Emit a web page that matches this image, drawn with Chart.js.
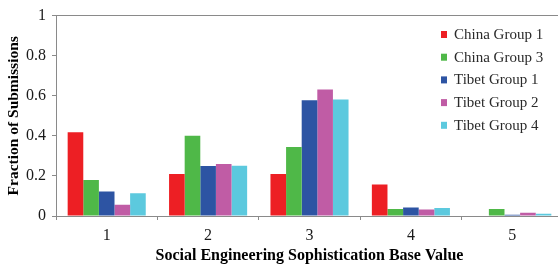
<!DOCTYPE html>
<html>
<head>
<meta charset="utf-8">
<script src="https://cdn.jsdelivr.net/npm/chart.js@4.4.0/dist/chart.umd.min.js"></script>
<style>
  html, body { margin: 0; padding: 0; background: #fff; overflow: hidden; }
  #wrap { width: 563px; height: 266px; }
</style>
</head>
<body>
<div id="wrap"><canvas id="myChart"></canvas></div>
<script>
"use strict";
const categories = ["1", "2", "3", "4", "5"];
const seriesNames = ["China Group 1", "China Group 3", "Tibet Group 1", "Tibet Group 2", "Tibet Group 4"];
const chinaGroup1 = [0.418, 0.21, 0.21, 0.157, 0];
const chinaGroup3 = [0.18, 0.4, 0.344, 0.035, 0.035];
const tibetGroup1 = [0.122, 0.249, 0.578, 0.042, 0.006];
const tibetGroup2 = [0.056, 0.259, 0.631, 0.032, 0.016];
const tibetGroup4 = [0.114, 0.251, 0.581, 0.04, 0.011];
const yTicks = [0, 0.2, 0.4, 0.6, 0.8, 1];
const barColors = ["#ed1f24", "#4fb848", "#2d54a3", "#c05ca5", "#5cc9de"];

const serif = "'Liberation Serif', 'Times New Roman', serif";
const axisGray = "#8a8a8a";

// legend drawn inside the plot, top right
const legendBox = {
  id: "legendBox",
  afterDraw(chart) {
    const ctx = chart.ctx;
    ctx.save();
    ctx.font = "15px " + serif;
    ctx.textBaseline = "middle";
    chart.data.datasets.forEach(function (ds, i) {
      const y = 35 + i * 22.7;
      ctx.fillStyle = ds.backgroundColor;
      ctx.fillRect(441, y - 4, 6, 7);
      ctx.fillStyle = "#2a2a2a";
      ctx.fillText(ds.label, 454, y);
    });
    ctx.restore();
  },
};

const allSeries = [chinaGroup1, chinaGroup3, tibetGroup1, tibetGroup2, tibetGroup4];

const data = {
  labels: categories,
  datasets: allSeries.map(function (vals, i) {
    return {
      label: seriesNames[i],
      data: vals,
      backgroundColor: barColors[i],
      borderWidth: 0,
      categoryPercentage: 0.77,
      barPercentage: 1.0,
    };
  }),
};

const config = {
  type: "bar",
  data,
  options: {
    responsive: true,
    maintainAspectRatio: false,
    animation: false,
    layout: { padding: { top: 9, right: 0, left: 0, bottom: 0 } },
    plugins: {
      legend: { display: false },
      tooltip: { enabled: false },
    },
    scales: {
      x: {
        afterFit: function (s) { s.height = 50; },
        grid: {
          drawOnChartArea: false,
          color: axisGray,
          tickLength: 4,
        },
        border: { color: axisGray, width: 1 },
        ticks: {
          color: "#1a1a1a",
          font: { family: serif, size: 16 },
          padding: 6,
        },
        title: {
          display: true,
          text: "Social Engineering Sophistication Base Value",
          color: "#000",
          font: { family: serif, size: 16, weight: "bold" },
          padding: { top: 0, bottom: 1 },
        },
      },
      y: {
        min: 0,
        max: 1,
        afterFit: function (s) { s.width = 56; },
        afterBuildTicks: function (s) {
          s.ticks = yTicks.map(function (v) { return { value: v }; });
        },
        grid: {
          drawOnChartArea: true,
          color: function (c) { return c.tick && c.tick.value === 1 ? axisGray : "transparent"; },
          tickColor: axisGray,
          tickLength: 4,
        },
        border: { color: axisGray, width: 1 },
        ticks: {
          color: "#1a1a1a",
          font: { family: serif, size: 16 },
          padding: 6,
          callback: function (v) { return String(v); },
        },
        title: {
          display: true,
          text: "Fraction of Submissions",
          color: "#000",
          font: { family: serif, size: 15.5, weight: "bold" },
          padding: { top: 5, bottom: 0 },
        },
      },
    },
  },
  plugins: [legendBox],
};

const myChart = new Chart(document.getElementById("myChart"), config);
</script>
</body>
</html>
